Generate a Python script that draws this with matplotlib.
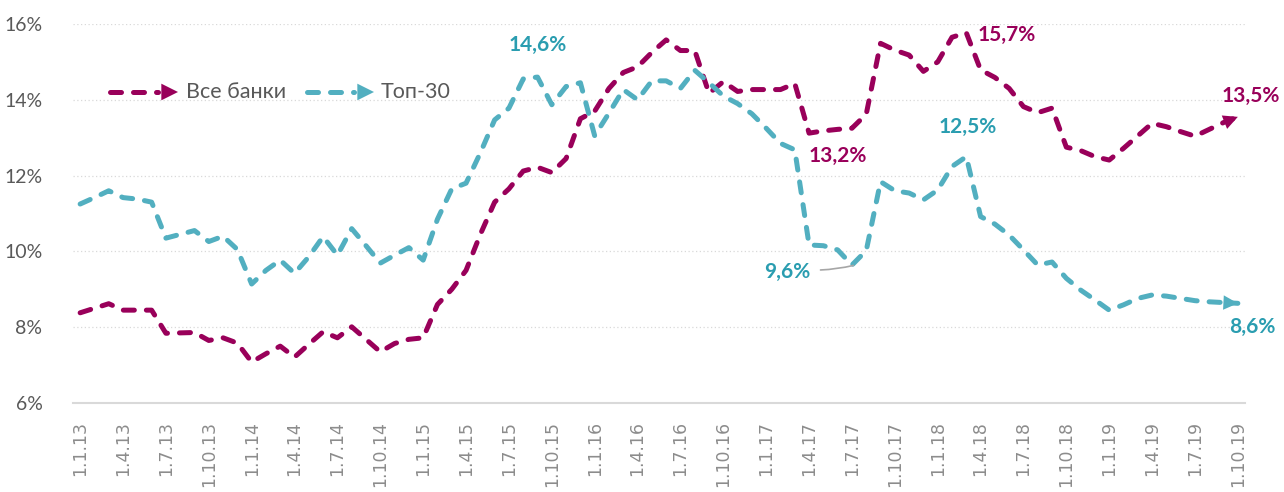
import matplotlib
matplotlib.use("Agg")
import matplotlib.pyplot as plt
from matplotlib.lines import Line2D

plt.rcParams["font.family"] = ["Lato", "Noto Sans", "DejaVu Sans"]

# monthly, 1.1.13 .. 1.10.19
years = [13, 14, 15, 16, 17, 18, 19]
months = [1, 4, 7, 10]

all_banks = [
    8.38, 8.50, 8.62, 8.45, 8.45, 8.45, 7.84, 7.85, 7.86, 7.65, 7.72, 7.58,
    7.08, 7.30, 7.50, 7.21, 7.55, 7.88, 7.72, 8.01, 7.68, 7.35, 7.57, 7.68,
    7.72, 8.60, 9.00, 9.50, 10.45, 11.30, 11.65, 12.12, 12.22, 12.08, 12.45, 13.50,
    13.70, 14.30, 14.72, 14.87, 15.25, 15.58, 15.30, 15.30, 14.17, 14.48, 14.22, 14.27,
    14.27, 14.27, 14.43, 13.12, 13.18, 13.22, 13.25, 13.62, 15.49, 15.31, 15.18, 14.75,
    15.00, 15.65, 15.77, 14.79, 14.59, 14.30, 13.82, 13.66, 13.78, 12.75, 12.66, 12.50,
    12.41, 12.72, 13.05, 13.38, 13.29, 13.16, 13.04, 13.22, 13.40, 13.55,
]
top30 = [
    11.25, 11.42, 11.60, 11.42, 11.38, 11.30, 10.35, 10.45, 10.55, 10.26, 10.40, 10.05,
    9.14, 9.50, 9.77, 9.42, 9.86, 10.39, 9.90, 10.60, 10.15, 9.69, 9.90, 10.10,
    9.77, 10.85, 11.65, 11.80, 12.60, 13.47, 13.78, 14.55, 14.60, 13.87, 14.35, 14.45,
    13.05, 13.65, 14.27, 14.00, 14.50, 14.50, 14.30, 14.78, 14.45, 14.10, 13.90, 13.63,
    13.25, 12.85, 12.68, 10.17, 10.15, 10.04, 9.64, 10.02, 11.84, 11.60, 11.54, 11.36,
    11.62, 12.24, 12.50, 10.92, 10.72, 10.43, 10.04, 9.64, 9.72, 9.29, 8.98, 8.72,
    8.45, 8.59, 8.76, 8.85, 8.82, 8.76, 8.70, 8.67, 8.65, 8.63,
]

# (text, x index, y value, series)
labels = [
    ("14,6%", 32.0, 15.45, "top"),
    ("13,2%", 53.0, 12.52, "all"),
    ("9,6%", 49.5, 9.46, "top"),
    ("15,7%", 64.8, 15.71, "all"),
    ("12,5%", 62.1, 13.28, "top"),
    ("13,5%", 81.9, 14.10, "all"),
    ("8,6%", 82.0, 8.00, "top"),
]

PURPLE = "#99005A"
TEAL = "#52AFC0"
TEAL_TXT = "#2A9DB0"
DASH = (0, (2.2, 2.4))
LW = 3.6

tick_labels = [f"1.{m}.{y}" for y in years for m in months]
x = list(range(len(all_banks)))

fig = plt.figure(figsize=(12.84, 4.92), dpi=100)
ax = fig.add_axes([73 / 1284, 89 / 492, 1172 / 1284, 379 / 492])

for vals, col in [(all_banks, PURPLE), (top30, TEAL)]:
    ax.plot(x, vals, color=col, lw=LW, linestyle=DASH, dash_capstyle="round",
            solid_capstyle="round", zorder=3)
    ax.annotate("", xy=(x[-1], vals[-1]), xytext=(x[-2], vals[-2]),
                arrowprops=dict(arrowstyle="-|>", color=col, lw=0,
                                mutation_scale=26, shrinkA=0, shrinkB=0),
                zorder=4)

for txt, xi, yv, s in labels:
    ax.text(xi, yv, txt, ha="center", va="center", fontsize=15, fontweight="bold",
            color=PURPLE if s == "all" else TEAL_TXT)

# leader line for 9,6%
ax.annotate("", xy=(54.1, 9.63), xytext=(51.8, 9.51),
            arrowprops=dict(arrowstyle="-", color="#A6A6A6", lw=1.2,
                            connectionstyle="arc3,rad=0.05", shrinkA=0, shrinkB=0))

ax.set_xlim(-0.5, len(x) - 0.5)
ax.set_ylim(6, 16)
ax.set_yticks([6, 8, 10, 12, 14, 16])
ax.set_yticklabels([f"{v}%" for v in [6, 8, 10, 12, 14, 16]])
ax.set_xticks(x[::3])
ax.set_xticklabels(tick_labels, rotation=90, family="DejaVu Sans")
ax.tick_params(axis="y", length=0, pad=22, labelsize=14, labelcolor="#595959")
ax.tick_params(axis="x", length=0, pad=13, labelsize=12.5, labelcolor="#8C8C8C")

for v in [8, 10, 12, 14, 16]:
    ax.axhline(v, color="#D9D9D9", lw=0.9, linestyle=(0, (1, 2)), zorder=1)
for side in ["top", "right", "left"]:
    ax.spines[side].set_visible(False)
ax.spines["bottom"].set_color("#D9D9D9")
ax.spines["bottom"].set_linewidth(1.5)

# legend drawn by hand, axes fraction coords
def px(xp, yp):
    return ((xp - 73) / 1172, (403 - yp) / 379)

for (x0, x1, tx, name, col) in [(110, 158, 186, "Все банки", PURPLE),
                                (307, 354, 381, "Топ-30", TEAL)]:
    a, b = px(x0, 92)
    c, _ = px(x1, 92)
    ax.add_line(Line2D([a, c], [b, b], transform=ax.transAxes, color=col, lw=LW,
                       linestyle=DASH, dash_capstyle="round"))
    ax.annotate("", xy=px(x1 + 20, 92), xytext=px(x1, 92), xycoords="axes fraction",
                arrowprops=dict(arrowstyle="-|>", color=col, lw=0,
                                mutation_scale=30, shrinkA=0, shrinkB=0))
    tx_, ty_ = px(tx, 92)
    ax.text(tx_, ty_, name, transform=ax.transAxes, ha="left", va="center",
            fontsize=15.5, color="#595959")

fig.savefig("out.png", dpi=100)
